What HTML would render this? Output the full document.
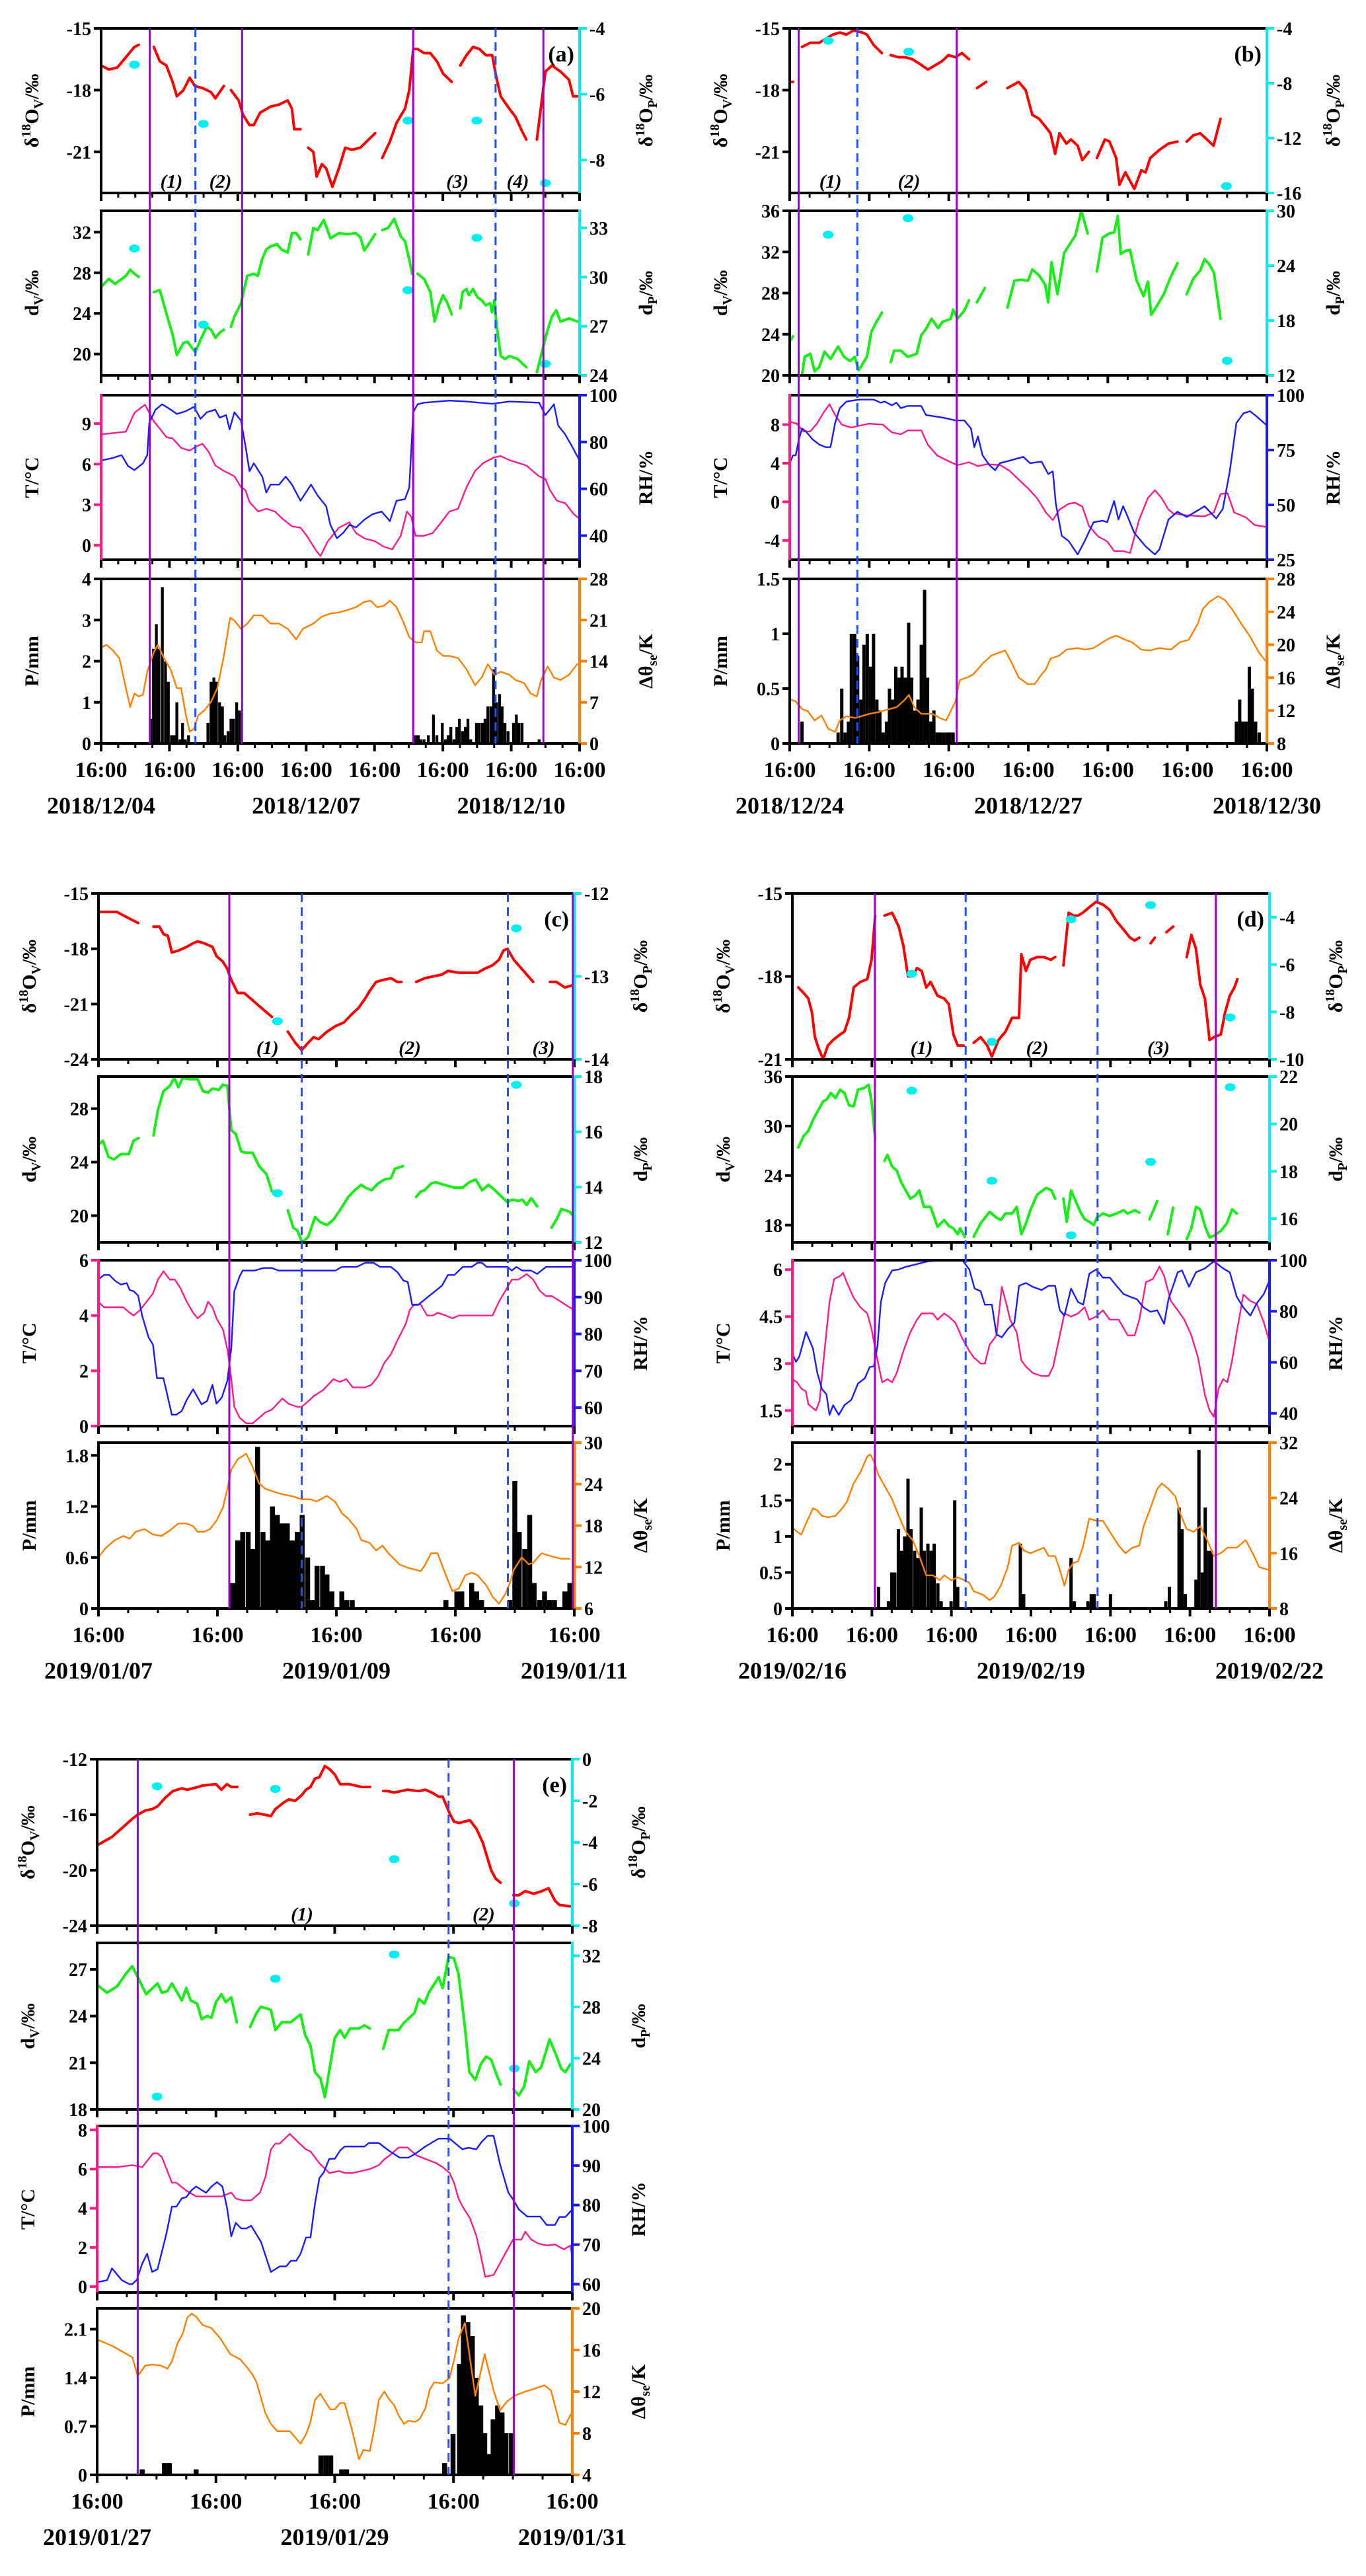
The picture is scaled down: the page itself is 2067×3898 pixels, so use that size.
<!DOCTYPE html>
<html><head><meta charset="utf-8"><title>Isotope time series panels</title>
<style>
html,body{margin:0;padding:0;background:#fff;}
svg{display:block;font-family:"Liberation Serif",serif;font-weight:bold;}
</style></head>
<body>
<svg id="chart" xmlns="http://www.w3.org/2000/svg" width="2067" height="3898" viewBox="0 0 2067 3898"></svg>
<script>
// ===== Panel (a) data =====
const aD18Ov=[[0,-16.8],[2.7,-17.0],[5.7,-16.9],[8.7,-16.4],[11.7,-15.9],[13.2,-15.8],null,[18.5,-15.9],[20.6,-16.6],[22.9,-16.8],[25.1,-17.6],[26.6,-18.3],[28.9,-18.0],[31.1,-17.4],[32.9,-17.8],[35.6,-17.9],[38.6,-18.1],[40.1,-18.4],[43.1,-17.8],null,[45.6,-18.0],[48.3,-18.5],[49.8,-19.2],[52.1,-19.7],[53.6,-19.7],[55.8,-19.1],[59.5,-18.8],[62.5,-18.7],[65.5,-18.5],[67,-18.9],[67.8,-19.9],[70,-19.9],null,[72.7,-20.8],[74.5,-21.0],[75.7,-22.2],[77.5,-21.6],[79,-21.8],[81.2,-22.7],[83.5,-21.8],[85.7,-20.8],[88,-20.9],[91,-20.8],[93.2,-20.5],[96.2,-20.1],null,[98.7,-21.3],[101.4,-20.5],[103.7,-19.6],[106.7,-18.9],[108.2,-18.0],[109.6,-16.0],[111.1,-16.0],[113.4,-16.2],[115.6,-16.2],[117.9,-16.6],[120.1,-17.2],[123.1,-17.6],null,[126.1,-16.8],[128.3,-16.3],[130.6,-15.9],[132.8,-16.0],[135.1,-16.3],[137.3,-16.3],[138.8,-17.4],[140.3,-18.3],[143.3,-18.9],[145.5,-19.3],[147.8,-20.0],[149.3,-20.4],null,[153,-20.4],[154.1,-19.2],[156,-17.1],[158.3,-16.8],[161.3,-17.1],[164.3,-17.5],[165.7,-18.3],[167.2,-18.3]];
const aD18Op=[[11.7,-5.1],[35.9,-6.9],[107.7,-6.8],[131.9,-6.8],[156,-8.7]];
const aDv=[[0,26.6],[2.7,27.4],[4.9,26.9],[8.7,27.7],[10.2,28.3],[11.7,27.9],[13.2,27.6],null,[18.5,26.1],[20.6,26.3],[22.9,24.0],[25.1,21.9],[26.6,19.9],[28.9,21.1],[30.4,21.2],[31.9,20.6],[33.1,20.2],[34.9,21.4],[37.1,22.7],[38.6,22.4],[40.1,21.6],[41.6,22.1],[43.1,22.4],null,[45.6,22.7],[46.8,23.7],[49.1,25.0],[51.3,27.7],[53.6,27.9],[55.0,27.7],[56.5,29.3],[58.0,30.3],[59.5,30.6],[61.8,30.8],[63.3,30.3],[65.5,30.0],[67.0,31.9],[68.5,31.9],[70.0,31.3],null,[72.7,29.8],[74.5,32.4],[76.0,32.2],[78.2,33.2],[80.5,31.4],[83.5,31.9],[86.5,31.8],[89.5,31.9],[91.0,31.5],[92.4,30.2],[93.9,30.8],[96.2,31.8],null,[98.7,32.2],[100.7,32.4],[102.9,33.3],[105.2,31.6],[106.7,31.1],[108.2,29.3],[109.2,27.9],null,[111.1,27.9],[113.4,27.4],[115.6,26.1],[117.1,23.2],[118.6,24.8],[120.1,25.8],[121.6,25.0],[123.1,23.9],null,[126.1,24.5],[126.9,26.1],[128.3,26.4],[129.1,25.8],[130.6,26.4],[132.1,25.6],[133.6,25.3],[135.1,24.8],[136.6,25.0],[137.3,24.1],[138.1,25.3],[138.8,23.0],[140.3,19.8],[141.8,19.5],[143.3,19.8],[146.3,19.5],[149.3,18.7],null,[153,18.2],[155.3,20.8],[156.8,22.4],[158.3,23.7],[159.8,24.3],[161.3,23.2],[164.3,23.5],[167.2,23.2]];
const aDp=[[11.7,31.75],[35.9,27.1],[107.7,29.2],[131.9,32.4],[156,24.7]];
const aT=[[0,8.2],[8.7,8.4],[11.7,9.8],[15.4,10.4],[18.4,9.2],[22.9,8.0],[25.1,7.9],[28.1,7.2],[31.1,7.0],[33.3,7.3],[35.6,7.5],[37.8,6.9],[40.1,5.9],[43.1,5.5],[46.8,5.1],[49.1,4.3],[50.6,4.1],[52.1,3.2],[55.1,2.5],[58.0,2.7],[61.0,2.5],[64.0,1.9],[67.0,1.4],[70.0,1.3],[72.2,0.7],[75.2,-0.3],[77.0,-0.8],[79.6,0.3],[83.5,1.3],[87.2,1.7],[89.5,0.9],[92.5,0.5],[96.2,0.3],[99.2,-0.1],[102.2,-0.3],[105.2,0.7],[107.4,2.5],[108.9,2.1],[110.4,0.7],[113.4,0.7],[116.4,0.9],[119.4,1.7],[122.3,2.5],[125.3,2.7],[128.3,4.3],[131.3,5.5],[134.3,6.1],[138.0,6.5],[140.3,6.6],[143.3,6.3],[146.3,6.1],[149.3,5.9],[151.5,5.5],[153.8,5.1],[156.0,4.9],[157.5,4.1],[160.0,3.3],[163.0,3.1],[166.0,2.3],[167.7,2.0]];
const aRH=[[0,72.1],[4.2,73.2],[7.2,74.4],[9.4,69.8],[11.7,68.0],[14.7,70.9],[16.2,74.4],[16.9,88.1],[19.1,93.8],[21.4,96.1],[23.6,94.5],[26.6,92.0],[29.6,93.1],[32.6,95.0],[34.9,89.9],[37.1,92.7],[40.1,93.8],[41.6,90.4],[43.9,91.5],[45.1,85.4],[46.8,92.7],[49.1,89.2],[50.6,78.9],[52.1,67.5],[53.6,70.9],[56.6,65.2],[58.0,58.4],[59.5,61.8],[62.5,61.8],[64.8,65.2],[67.0,61.8],[70.0,54.9],[73.7,61.8],[76.0,57.2],[79.0,52.6],[80.5,44.6],[82.8,38.9],[85.0,41.2],[87.2,44.6],[89.5,43.5],[92.5,46.9],[95.4,49.2],[98.5,50.3],[101.4,46.2],[103.7,54.9],[106.7,55.6],[108.2,60.6],[109.6,92.7],[111.1,96.1],[113.4,96.8],[122.3,97.7],[128.3,97.3],[137.3,96.3],[143.3,97.3],[153.8,96.8],[156.0,91.5],[159.0,96.1],[160.5,87.0],[162.8,83.5],[165.0,78.9],[168,72.1]];
const aP=[[17.4,0.6],[18.4,2.3],[19.4,2.9],[20.3,2.3],[21.5,3.8],[22.6,2.0],[23.6,1.5],[24.7,0.2],[25.6,0.2],[26.6,1.0],[27.7,0.1],[28.6,0.5],[29.6,0.1],[30.7,0.2],[37.5,0.5],[38.6,1.5],[39.6,1.6],[40.5,1.5],[41.6,1.0],[42.6,0.9],[43.5,0.2],[44.6,0.3],[45.6,0.6],[46.5,0.6],[47.6,1.0],[48.6,0.8],[110.4,0.2],[111.4,0.2],[112.3,0.1],[113.4,0.1],[114.9,0.2],[116.7,0.7],[117.9,0.2],[119.8,0.5],[120.9,0.1],[121.9,0.2],[122.8,0.4],[123.9,0.1],[124.9,0.4],[125.8,0.6],[126.9,0.3],[127.9,0.4],[128.8,0.6],[129.8,0.1],[131.8,0.5],[132.8,0.5],[133.9,0.5],[134.8,0.6],[135.8,0.9],[136.9,0.9],[137.8,1.8],[138.8,1.0],[139.9,1.2],[140.8,0.9],[141.8,0.5],[142.9,0.3],[144.8,0.5],[145.8,0.7],[146.7,0.5],[147.8,0.5],[153.8,0.1]];
const aTheta=[[0,16.3],[1.9,16.8],[4.2,15.8],[6.4,14.5],[8.7,9.4],[10.2,6.2],[11.7,8.5],[13.2,8.0],[14.7,8.3],[16.2,12.2],[18.4,15.4],[19.9,16.8],[22.1,14.5],[24.4,12.6],[26.6,9.4],[28.1,9.4],[29.6,5.2],[31.1,2.0],[32.6,2.5],[34.1,4.8],[36.4,5.7],[38.6,7.1],[40.8,9.4],[43.1,14.9],[45.3,21.4],[46.8,20.9],[49.1,19.5],[51.3,20.4],[53.6,21.8],[56.5,21.8],[59.5,20.4],[62.5,20.4],[65.5,19.5],[68.5,17.7],[70.8,19.5],[74.5,20.4],[77.5,21.6],[80.5,22.1],[83.5,22.3],[86.5,22.7],[89.5,23.2],[92.4,24.1],[94.7,24.3],[96.9,23.2],[99.2,23.4],[101.4,24.3],[103.7,23.2],[105.9,20.9],[108.2,18.1],[110.4,17.2],[112.6,17.2],[113.4,19.1],[115.6,19.1],[117.9,15.8],[120.1,14.9],[122.4,14.9],[125.4,14.5],[128.3,12.6],[131.3,9.9],[133.6,11.2],[135.8,13.5],[138.1,11.7],[140.3,12.2],[143.3,11.7],[145.5,10.8],[148.5,10.3],[150.8,8.5],[153.0,8.0],[154.5,10.8],[156.8,13.1],[159.0,11.2],[161.3,10.8],[164.3,11.7],[167.2,13.5]];
const aPurple=[17.1,49.5,109.6,155.3];
const aDashed=[33.1,138.5];
const aPhases=[["(1)",24.7],["(2)",41.9],["(3)",125.1],["(4)",146.3]];

// ===== Panel (b) data =====
const bD18Ov=[[0,-17.6],[1.0,-17.6],null,[3.7,-15.9],[6.2,-15.7],[8.9,-15.7],[10.9,-15.5],[13.0,-15.3],[15.1,-15.2],[17.1,-15.3],[19.2,-15.1],[21.9,-15.2],[23.3,-15.3],[25.3,-15.8],[27.8,-16.2],null,[30.5,-16.3],[32.8,-16.4],[34.9,-16.4],[37.0,-16.5],[39.0,-16.7],[41.7,-17.0],[43.8,-16.8],[45.9,-16.6],[47.9,-16.3],[50.0,-16.4],[52.0,-16.2],[54.1,-16.5],null,[56.5,-17.9],[59.3,-17.6],null,[65.7,-17.9],[69.1,-17.6],[71.2,-18.0],[73.2,-19.2],[75.3,-19.4],[77.3,-19.8],[78.7,-20.1],[80.1,-21.1],[81.4,-20.1],[83.5,-20.6],[84.9,-20.4],[86.9,-20.7],[88.3,-21.4],[90.3,-21.0],null,[92.7,-21.3],[95.1,-20.4],[96.5,-20.5],[98.5,-21.3],[99.5,-22.6],[101.3,-22.0],[104.0,-22.8],[106.1,-21.9],[107.4,-22.0],[108.8,-21.3],[111.6,-20.9],[114.3,-20.6],[117.0,-20.5],null,[119.8,-20.5],[121.8,-20.2],[123.9,-20.1],[125.9,-20.4],[127.9,-20.7],[130.0,-19.4]];
const bD18Op=[[11.6,-4.9],[35.9,-5.7],[131.8,-15.5]];
const bDv=[[0,23.3],[1.0,23.8],null,[3.7,20.0],[4.5,21.8],[6.2,22.1],[7.5,20.4],[8.9,20.8],[10.5,22.3],[12.3,21.6],[14.6,22.8],[16.4,21.8],[18.2,21.4],[19.6,21.8],[20.8,20.5],[23.3,21.8],[24.6,24.2],[26.0,25.1],[27.8,26.1],null,[30.5,21.3],[31.5,22.4],[33.5,22.4],[35.6,21.8],[38.3,22.1],[39.7,23.9],[41.1,24.5],[42.8,25.5],[44.8,24.6],[46.1,25.2],[48.6,25.5],[49.3,26.4],[50.6,25.5],[52.7,26.3],[54.1,27.3],null,[56.5,27.1],[58.9,28.5],null,[65.7,26.6],[67.8,29.2],[69.8,29.3],[71.9,29.2],[73.2,30.3],[75.3,29.7],[77.1,28.8],[78.0,27.1],[79.0,31.0],[80.8,27.9],[82.8,31.9],[84.2,32.6],[86.2,33.6],[88.0,36.0],[89.9,33.8],null,[92.7,30.1],[94.4,33.4],[96.5,33.8],[97.9,33.9],[99.0,35.5],[99.9,31.8],[101.3,32.1],[102.7,32.2],[104.7,29.2],[106.8,27.7],[108.1,29.1],[109.1,25.9],[110.9,26.8],[112.9,27.9],[115.0,29.6],[117.0,30.9],null,[119.8,27.9],[121.8,29.4],[123.9,30.2],[125.2,31.3],[126.6,30.8],[128.0,30.0],[130.0,25.5]];
const bDp=[[11.6,27.4],[35.7,29.2],[132,13.6]];
const bT=[[0,8.3],[2.1,8.1],[4.1,7.3],[6.2,7.3],[8.2,8.1],[10.3,9.3],[12.0,10.1],[13.7,9.0],[15.7,8.0],[18.5,7.7],[21.2,7.9],[24.0,8.1],[28.1,8.0],[30.8,7.2],[33.5,7.0],[35.6,7.4],[39.7,7.4],[41.7,5.9],[44.5,4.8],[48.6,4.1],[50.6,3.8],[54.1,4.1],[56.8,3.7],[59.5,3.9],[63.6,3.8],[66.4,3.2],[69.1,2.3],[71.9,1.4],[74.6,0.4],[77.3,-1.1],[79.4,-1.9],[81.4,-0.8],[84.2,-0.2],[86.2,-0.1],[88.3,-0.5],[90.3,-2.5],[93.1,-3.6],[95.8,-4.1],[97.9,-5.1],[100.6,-5.1],[102.7,-5.3],[105.4,-1.9],[108.1,0.4],[110.2,1.2],[112.2,0.4],[114.3,-0.8],[115.7,-1.2],[119.8,-1.4],[125.2,-1.5],[128.0,-1.1],[130.0,0.8],[132.1,0.9],[134.1,-1.1],[137.6,-1.6],[140.3,-2.4],[143.7,-2.6]];
const bRH=[[0,69.0],[1.0,72.6],[1.8,72.6],[2.7,79.5],[3.7,84.8],[4.8,83.6],[6.8,80.0],[8.9,77.5],[10.9,76.3],[12.3,76.3],[13.7,87.3],[15.1,94.1],[17.1,97.1],[19.2,97.6],[21.2,98.0],[25.3,98.0],[27.4,96.6],[28.7,97.1],[30.8,95.4],[32.2,96.6],[33.5,94.1],[35.6,95.1],[39.7,95.1],[41.1,91.0],[46.5,89.7],[50.0,88.5],[52.7,88.5],[54.7,84.8],[55.7,76.3],[56.8,81.2],[58.2,72.6],[60.2,68.2],[62.0,65.8],[63.4,69.0],[66.4,70.2],[70.5,71.9],[72.5,69.0],[76.0,69.7],[78.0,64.1],[79.4,65.3],[80.3,50.6],[82.1,35.9],[84.2,33.5],[86.9,27.4],[89.0,33.5],[91.7,42.1],[94.4,42.8],[95.8,42.1],[97.9,51.8],[99.2,43.3],[100.6,49.4],[101.7,45.7],[104.0,37.2],[107.4,31.1],[110.2,27.4],[111.6,29.8],[114.3,43.3],[117.0,46.9],[119.8,44.5],[122.5,46.9],[125.2,49.4],[128.7,43.8],[130.7,48.2],[132.8,65.3],[134.8,87.3],[136.9,91.7],[138.9,92.7],[141.0,90.2],[143.7,86.6]];
const bP=[[3.7,0.2],[14.6,0.1],[15.7,0.5],[16.7,0.1],[17.7,0.2],[18.6,1.0],[19.6,1.0],[20.5,0.8],[21.5,0.4],[22.4,0.9],[23.4,1.0],[24.4,0.7],[25.3,1.0],[26.3,0.4],[27.2,0.3],[28.2,0.1],[29.2,0.2],[30.1,0.5],[31.1,0.4],[32.0,0.7],[33.0,0.6],[33.9,0.7],[34.9,0.6],[35.9,1.1],[36.8,0.6],[37.8,0.3],[38.7,0.4],[39.7,0.9],[40.7,1.4],[41.6,0.6],[42.6,0.2],[43.5,0.3],[44.5,0.1],[45.4,0.1],[46.4,0.1],[47.4,0.1],[48.3,0.1],[49.3,0.1],[134.8,0.2],[135.8,0.4],[136.7,0.2],[137.7,0.2],[138.7,0.7],[139.6,0.5],[140.6,0.2],[141.7,0.1]];
const bTheta=[[0,13.4],[1.8,13.1],[3.7,12.2],[5.5,11.9],[7.5,10.8],[9.6,11.4],[11.6,9.8],[13.7,9.4],[15.1,10.8],[17.1,11.3],[19.8,11.1],[24.0,11.6],[26.7,11.8],[29.4,12.1],[32.2,12.4],[34.2,13.1],[36.0,13.9],[37.6,12.4],[39.7,11.6],[43.1,11.6],[45.2,11.1],[47.2,10.8],[50.0,13.1],[51.3,15.7],[53.4,16.0],[55.4,16.4],[58.2,17.7],[60.9,18.7],[65.0,19.3],[67.1,17.7],[69.1,16.0],[71.9,15.2],[73.9,15.2],[76.0,16.4],[77.3,17.0],[78.7,18.3],[81.4,18.7],[83.5,19.4],[86.9,19.6],[89.0,19.4],[91.7,19.6],[94.4,20.3],[96.5,20.8],[98.5,21.1],[101.3,20.6],[103.3,20.3],[106.1,19.4],[108.8,19.3],[111.6,19.6],[115.0,19.4],[117.7,20.3],[120.4,20.6],[123.2,22.6],[124.6,24.3],[126.6,25.2],[129.3,25.9],[131.4,25.4],[133.5,24.3],[136.2,22.6],[138.9,21.0],[141.7,19.0],[143.7,18.0]];
const bPurple=[2.7,50.4];
const bDashed=[20.4];
const bPhases=[["(1)",12.3],["(2)",36.0]];

// ===== Panel (c) data =====
const cD18Ov=[[0,-16.0],[2.0,-16.0],[3.7,-16.0],[5.8,-16.3],[8.0,-16.6],null,[11.1,-16.8],[12.3,-16.8],[13.1,-17.2],[14.0,-17.3],[14.8,-18.2],[16.1,-18.1],[17.8,-17.9],[19.1,-17.7],[20.0,-17.6],[21.3,-17.7],[23.0,-17.9],[23.8,-18.4],[25.1,-18.7],[26.0,-19.1],[26.8,-19.7],[28.1,-20.4],[29.4,-20.4],[30.7,-20.7],[32.4,-21.1],[33.7,-21.4],[35.0,-21.7],null,[38.2,-22.5],[39.7,-23.1],[41.0,-23.5],[42.3,-23.1],[43.4,-22.8],[44.4,-22.9],[46.1,-22.5],[47.8,-22.2],[49.5,-22.0],[51.3,-21.5],[52.5,-21.2],[53.8,-20.7],[54.7,-20.3],[56.0,-19.8],[57.3,-19.7],[59.0,-19.6],[60.3,-19.8],[61.1,-19.8],null,[64.1,-19.8],[65.8,-19.6],[67.5,-19.5],[69.3,-19.4],[70.5,-19.2],[72.7,-19.3],[75.3,-19.3],[76.5,-19.3],[77.8,-19.1],[79.5,-18.9],[80.8,-18.6],[81.7,-18.1],[82.5,-18.0],[83.8,-18.6],[85.1,-19.0],[86.4,-19.4],[87.7,-19.8],null,[91.1,-19.8],[92.4,-19.8],[94.1,-20.1],[95.4,-20.0]];
const cD18Op=[[36.1,-13.54],[84.3,-12.42]];
const cDv=[[0,25.3],[0.9,25.6],[2.0,24.4],[3.1,24.2],[4.5,24.6],[6.1,24.6],[7.1,25.6],[8.1,25.8],null,[11.1,26.0],[12.0,27.9],[13.1,29.3],[14.4,29.7],[15.3,30.3],[16.1,29.6],[17.0,30.3],[18.3,30.2],[20.0,30.2],[21.1,29.3],[22.1,29.2],[23.0,29.5],[24.3,29.4],[25.1,29.8],[26.0,29.7],[26.8,26.4],[27.7,26.1],[28.8,24.8],[29.7,24.7],[31.1,24.7],[32.4,23.7],[33.9,23.1],[35.0,21.8],null,[38.2,20.4],[39.3,19.1],[40.1,18.9],[41.1,18.0],[42.3,18.4],[43.7,19.9],[44.8,19.5],[46.1,19.3],[47.4,19.7],[48.7,20.4],[50.4,21.4],[51.7,21.9],[53.0,22.3],[53.8,22.1],[55.1,21.9],[56.4,22.4],[57.7,22.7],[59.0,22.8],[59.8,23.5],[61.4,23.7],null,[64.1,21.4],[65.0,21.8],[65.8,21.9],[67.1,22.4],[68.0,22.5],[69.7,22.3],[71.8,22.1],[73.5,22.1],[74.8,22.5],[76.1,22.7],[77.4,21.9],[78.7,22.3],[80.0,21.9],[80.8,21.6],[82.5,21.0],[83.4,21.2],[84.7,21.1],[85.5,21.2],[86.4,20.8],[87.3,21.3],[88.5,20.7],null,[91.4,19.1],[92.4,19.7],[93.4,20.5],[95.0,20.3],[95.8,20.0]];
const cDp=[[36.1,13.78],[84.3,17.7]];
const cT=[[0,4.5],[1.1,4.3],[2.8,4.3],[5.0,4.3],[6.3,4.1],[7.1,4.0],[8.4,4.2],[9.7,4.5],[11.0,4.8],[12.0,5.3],[13.1,5.6],[14.4,5.3],[15.4,5.3],[16.5,5.0],[17.8,4.5],[19.1,4.1],[20.0,3.9],[21.3,4.1],[22.1,4.5],[23.0,4.3],[23.8,3.9],[25.1,3.5],[26.1,2.7],[26.8,1.7],[27.4,0.7],[28.5,0.3],[29.8,0.1],[31.1,0.1],[32.4,0.3],[33.7,0.5],[35.0,0.6],[37.1,1.0],[38.4,0.8],[40.1,0.7],[41.0,0.7],[42.3,0.9],[43.5,1.1],[45.3,1.3],[47.4,1.7],[48.7,1.6],[50.0,1.7],[51.3,1.4],[53.8,1.4],[55.1,1.5],[56.4,1.8],[57.7,2.3],[59.0,2.6],[60.3,3.1],[62.0,3.7],[62.8,4.2],[63.7,4.4],[65.0,4.4],[66.3,4.0],[67.5,4.0],[68.4,4.1],[70.1,4.0],[71.4,3.9],[72.7,4.0],[75.3,4.0],[79.5,4.0],[80.8,4.5],[82.1,4.9],[83.4,5.3],[84.7,5.3],[86.4,5.5],[87.7,5.3],[89.0,4.9],[90.3,4.7],[91.5,4.7],[93.3,4.5],[95.0,4.3],[96.0,4.2]];
const cRH=[[0,94.8],[1.1,96.0],[2.2,96.0],[3.3,94.5],[4.5,93.4],[5.7,93.8],[6.3,91.9],[7.1,91.6],[8.0,90.4],[8.8,85.0],[10.1,79.1],[11.0,77.1],[11.8,68.0],[13.1,68.0],[14.0,62.8],[14.8,58.1],[15.7,58.1],[16.8,59.1],[17.8,62.1],[19.1,65.0],[20.0,62.8],[20.8,60.9],[21.9,61.8],[23.0,66.2],[23.8,61.1],[24.9,62.8],[26.0,67.3],[26.8,76.1],[27.4,91.6],[28.5,95.7],[29.1,97.2],[31.5,97.2],[33.3,97.9],[35.0,97.9],[36.3,97.2],[44.0,97.2],[47.8,97.2],[49.1,98.2],[52.1,98.2],[53.8,99.3],[55.5,99.3],[56.8,98.2],[59.0,98.2],[60.3,96.8],[61.5,94.5],[62.4,94.1],[63.3,87.9],[64.5,87.9],[69.3,93.1],[70.5,96.0],[71.8,96.0],[73.5,98.2],[75.3,98.2],[76.5,99.3],[77.4,99.3],[78.3,98.2],[82.5,98.2],[83.4,97.2],[84.3,98.2],[85.5,97.2],[87.3,97.2],[88.5,96.3],[90.3,98.2],[96,98.2]];
const cP=[[27.1,0.3],[28.1,0.8],[29.1,0.9],[30.2,0.9],[31.1,0.7],[32.1,1.9],[33.2,0.9],[34.1,0.8],[35.1,1.2],[36.1,1.1],[37.1,1.0],[38.1,1.0],[39.1,0.8],[40.1,0.9],[41.1,1.1],[42.2,0.6],[43.1,0.1],[44.1,0.5],[45.2,0.5],[46.1,0.4],[47.1,0.2],[49.1,0.2],[50.1,0.1],[51.2,0.1],[70.1,0.1],[72.3,0.2],[73.3,0.2],[75.3,0.3],[76.3,0.2],[77.3,0.1],[83.0,0.1],[84.0,1.5],[84.9,0.9],[86.0,0.7],[87.0,1.1],[87.9,0.3],[89.0,0.1],[90.0,0.2],[91.0,0.1],[92.0,0.1],[94.1,0.2],[95.1,0.3]];
const cTheta=[[0,13.4],[1.5,14.8],[3.3,15.9],[5.0,16.5],[6.3,16.1],[7.5,17.1],[9.3,17.5],[11.0,16.7],[12.7,16.5],[14.4,17.3],[16.1,18.3],[17.8,18.3],[19.1,17.9],[20.0,17.1],[21.3,17.1],[22.5,17.5],[23.8,18.7],[25.1,20.6],[26.0,23.3],[26.8,26.1],[28.1,27.6],[29.8,28.4],[31.1,26.5],[32.4,24.1],[33.7,23.3],[35.0,23.0],[36.7,22.6],[39.3,22.2],[41.0,21.8],[42.7,21.8],[44.0,21.5],[46.1,22.3],[47.8,21.4],[49.1,19.8],[50.4,19.0],[52.1,17.5],[53.0,15.9],[54.7,15.5],[56.0,14.4],[57.3,15.1],[58.5,14.0],[60.7,12.4],[62.4,11.9],[65.0,11.4],[65.8,12.2],[67.1,14.0],[68.4,14.0],[70.1,10.8],[71.4,8.5],[72.7,8.9],[74.0,10.8],[75.3,11.2],[76.5,10.8],[78.3,9.3],[79.5,7.7],[80.8,6.7],[82.1,8.1],[83.0,9.7],[83.8,11.6],[85.4,13.4],[86.8,12.4],[87.7,12.6],[89.4,14.0],[91.1,13.6],[93.3,13.2],[95.0,13.2]];
const cPurple=[26.4,95.7];
const cDashed=[41.0,82.6];
const cPhases=[["(1)",34.1],["(2)",62.8],["(3)",89.8]];

// ===== Panel (d) data =====
const dD18Ov=[[1.8,-18.4],[3.4,-18.6],[4.8,-18.8],[5.9,-19.3],[6.8,-20.2],[7.9,-20.6],[9.3,-21.0],[10.7,-20.5],[12.3,-20.3],[14.4,-20.1],[15.7,-20.0],[17.1,-19.5],[18.5,-18.4],[20.5,-18.2],[22.6,-18.1],[23.9,-17.4],[25.0,-15.8],null,[27.8,-15.8],[30.1,-15.7],[32.1,-16.2],[33.5,-16.9],[34.9,-18.0],[36.3,-18.0],[37.6,-17.7],[39.0,-17.8],[40.4,-18.4],[41.7,-18.2],[43.8,-18.7],[45.8,-18.8],[47.2,-19.0],[48.6,-20.1],[49.9,-20.5],[51.7,-20.5],null,[54.7,-20.4],[56.8,-20.2],[58.8,-20.5],[60.2,-20.9],[62.2,-20.3],[64.3,-20.0],[66.3,-19.5],[68.4,-19.5],[69.1,-17.2],[70.5,-17.8],[71.8,-17.4],[73.9,-17.3],[75.9,-17.3],[78.0,-17.4],[79.3,-17.3],null,[81.8,-17.6],[83.4,-15.7],[84.8,-15.8],[86.2,-15.8],[87.6,-15.7],[89.6,-15.5],[91.7,-15.3],[93.7,-15.4],[95.8,-15.6],[97.8,-16.0],[99.9,-16.3],[101.9,-16.6],[103.3,-16.7],[104.7,-16.6],null,[108.1,-16.8],[109.4,-16.6],null,[112.9,-16.4],[114.9,-16.2],null,[119.0,-17.3],[120.4,-16.5],[121.8,-17.0],[123.1,-18.3],[124.5,-18.8],[125.9,-20.3],[127.2,-20.2],[129.3,-20.1],[130.6,-19.3],[132.0,-18.7],[133.4,-18.4],[134.3,-18.1]];
const dD18Op=[[36,-6.39],[60.2,-9.26],[84.1,-4.09],[108.1,-3.49],[132.1,-8.23]];
const dDv=[[1.8,27.4],[3.4,28.8],[4.8,29.4],[6.2,30.7],[7.5,31.7],[9.3,33.0],[10.3,33.2],[11.6,34.0],[13.0,33.4],[14.4,34.4],[15.7,34.0],[17.1,32.5],[18.5,32.4],[19.8,34.4],[21.6,34.6],[23.0,35.0],[23.9,33.0],[25.0,28.4],null,[27.8,25.8],[28.7,26.5],[30.1,25.1],[31.5,24.6],[32.8,23.2],[34.2,22.2],[35.6,21.2],[36.9,21.5],[38.3,22.2],[39.7,20.2],[41.7,20.2],[43.8,17.8],[45.8,18.6],[47.2,17.9],[48.6,17.6],[49.9,16.9],[50.6,17.6],[52.0,16.6],null,[54.7,16.6],[56.8,18.2],[59.5,19.6],[61.6,18.9],[62.9,18.6],[64.3,19.4],[66.3,19.4],[67.7,20.2],[69.1,16.9],[70.5,18.2],[71.8,19.8],[73.9,21.7],[76.6,22.5],[78.2,22.2],[79.3,21.2],null,[81.8,21.2],[82.8,18.4],[84.1,22.2],[85.5,20.9],[86.9,19.6],[88.2,18.7],[89.6,18.4],[91.0,18.0],[91.9,18.9],[93.7,19.4],[95.8,19.1],[97.8,19.4],[99.9,19.8],[101.2,19.4],[103.3,19.8],[104.7,19.5],null,[107.8,18.7],[110.1,20.9],null,[113.3,16.9],[114.9,20.1],null,[119.0,16.3],[120.4,17.6],[121.8,20.2],[123.1,19.9],[124.5,17.9],[125.9,16.5],[127.2,16.7],[129.3,17.3],[131.1,18.2],[132.7,19.9],[134.1,19.4]];
const dDp=[[36,21.4],[60.2,17.6],[84.1,15.3],[108.1,18.4],[132.1,21.55]];
const dT=[[0,2.5],[1.4,2.4],[2.7,2.2],[4.1,2.1],[4.8,1.7],[5.9,1.6],[7.1,1.5],[8.2,1.8],[9.6,3.3],[11.2,4.96],[12.6,5.7],[14.4,5.8],[15.3,5.9],[16.4,5.6],[18.5,5.1],[20.5,4.8],[22.6,4.6],[23.9,4.1],[25.7,3.1],[27.1,2.4],[28.7,2.5],[30.1,2.4],[31.5,2.7],[33.5,3.4],[35.6,4.0],[37.6,4.4],[39.0,4.6],[42.4,4.6],[43.8,4.4],[45.8,4.6],[47.2,4.5],[49.2,4.3],[51.3,3.8],[53.4,3.4],[54.7,3.2],[56.8,3.0],[58.1,3.0],[59.5,3.6],[61.6,3.9],[63.2,5.45],[64.6,4.9],[65.7,4.4],[67.7,4.0],[69.1,3.1],[70.5,2.9],[72.5,2.7],[75.2,2.6],[77.3,2.6],[78.7,2.9],[80.7,3.9],[82.1,4.6],[84.1,4.5],[86.2,4.6],[88.2,4.8],[89.6,4.4],[91.7,4.5],[93.7,4.7],[95.8,4.4],[98.5,4.4],[101.2,3.9],[103.3,3.9],[104.7,4.4],[106.7,5.6],[108.8,5.7],[110.8,6.1],[112.2,5.8],[114.2,5.0],[116.3,4.7],[118.3,4.4],[120.4,3.9],[122.4,3.2],[124.5,2.0],[125.9,1.5],[127.2,1.3],[128.6,2.2],[130.0,2.5],[131.3,2.4],[132.7,3.1],[134.1,4.0],[136.1,5.2],[138.2,5.0],[140.2,4.9],[142.3,4.3],[144,3.7]];
const dRH=[[0,63.4],[1.1,60.2],[2.1,62.3],[4.1,71.9],[6.2,65.5],[7.5,56.0],[8.9,49.6],[10.3,47.4],[11.2,39.4],[12.3,43.2],[14.0,39.4],[15.7,43.2],[17.8,45.3],[19.8,51.7],[21.9,53.8],[23.3,58.1],[24.6,58.5],[25.7,66.6],[26.7,83.6],[28.0,91.1],[30.1,96.0],[32.1,96.4],[34.2,97.4],[37.6,98.5],[41.0,99.6],[45.1,100],[51.3,100],[53.4,96.4],[55.0,88.9],[56.8,87.9],[58.1,82.6],[60.2,82.6],[61.6,70.9],[63.2,69.8],[65.0,73.0],[67.0,75.5],[68.4,90.0],[70.5,91.1],[72.5,89.6],[75.2,88.3],[77.3,90.0],[79.3,90.0],[80.7,80.4],[82.1,78.3],[84.1,88.9],[86.2,83.6],[87.8,82.6],[89.6,94.7],[91.7,96.4],[93.7,93.2],[95.8,93.2],[97.8,90.0],[99.9,86.8],[101.9,85.7],[104.0,84.7],[106.0,81.5],[108.1,79.8],[110.1,80.4],[112.2,75.1],[113.5,84.7],[116.3,95.3],[117.6,96.0],[119.7,89.6],[121.8,95.3],[124.5,96.8],[127.2,99.6],[130.0,96.8],[132.0,95.3],[134.1,85.7],[136.1,81.5],[138.2,78.3],[140.2,83.2],[142.3,86.8],[144,92.1]];
const dP=[[26.0,0.3],[29.0,0.1],[30.0,0.5],[30.9,0.5],[32.0,1.1],[33.0,0.8],[33.9,1.0],[34.9,1.8],[35.8,1.1],[36.9,0.8],[37.9,0.7],[38.9,1.4],[39.8,0.8],[40.9,0.9],[41.9,0.8],[42.8,0.9],[43.9,0.35],[44.9,0.1],[47.9,0.1],[49.0,1.5],[49.9,0.3],[68.8,0.9],[69.8,0.2],[84.1,0.7],[85.1,0.1],[89.2,0.1],[90.2,0.2],[91.1,0.2],[96.0,0.2],[112.7,0.1],[113.8,0.3],[116.7,1.4],[117.6,1.1],[118.6,0.2],[121.8,0.4],[122.7,2.2],[123.7,0.5],[124.6,1.4],[125.6,0.8],[126.5,0.8]];
const dTheta=[[0,19.7],[1.4,19.1],[2.7,18.7],[4.1,20.3],[6.2,22.5],[7.5,22.2],[8.9,21.4],[10.9,21.2],[13.0,21.4],[15.0,22.5],[16.4,23.4],[18.5,26.1],[20.5,27.7],[22.6,30.0],[23.5,30.3],[24.6,29.3],[26.0,27.3],[28.0,25.6],[30.1,23.8],[32.1,21.4],[34.2,19.1],[36.3,17.9],[38.3,15.6],[40.4,12.8],[42.4,12.8],[44.5,12.1],[45.8,12.8],[47.9,12.1],[49.9,12.5],[52.0,12.1],[53.4,11.7],[54.7,10.5],[57.5,10.0],[59.5,9.2],[60.9,9.7],[62.9,11.3],[65.0,14.0],[66.3,17.1],[68.4,17.5],[69.8,16.4],[71.8,16.0],[73.9,16.4],[75.9,16.8],[77.3,15.6],[79.3,15.6],[80.7,13.6],[82.1,11.3],[83.4,13.6],[84.8,14.6],[86.2,14.8],[87.6,16.8],[89.6,21.0],[91.7,20.7],[93.7,20.7],[95.8,19.1],[98.5,17.1],[100.5,16.0],[102.6,16.8],[104.7,17.1],[106.0,19.9],[108.1,22.6],[110.1,25.3],[111.5,26.1],[113.5,25.3],[115.6,24.2],[117.0,21.8],[119.0,19.5],[121.1,19.1],[123.1,19.9],[125.2,17.9],[127.2,15.6],[129.3,16.0],[131.3,16.8],[134.1,16.8],[136.8,17.9],[138.9,16.0],[140.9,14.0],[143.6,13.6]];
const dPurple=[24.9,127.8];
const dDashed=[52.3,92.1];
const dPhases=[["(1)",39.0],["(2)",73.9],["(3)",110.5]];

// ===== Panel (e) data =====
const eD18Ov=[[0,-18.2],[3,-17.6],[7.1,-16.3],[8.2,-16.0],[9.7,-15.7],[11.1,-15.6],[12.2,-15.4],[13.7,-14.8],[15.3,-14.3],[17.1,-14.1],[18.2,-14.2],[20.4,-14.0],[21.3,-13.9],[24.0,-13.8],[25.1,-14.2],[26.2,-13.8],[27.1,-14.0],[28.3,-14.0],null,[30.9,-16.0],[32.4,-15.9],[33.8,-16.0],[35.1,-16.1],[36.0,-15.6],[37.8,-15.1],[38.7,-14.9],[40.0,-15.0],[41.3,-14.6],[42.2,-14.2],[43.1,-14.0],[44.0,-13.4],[44.9,-13.3],[46.0,-12.5],[46.9,-12.7],[48.0,-13.1],[49.1,-13.8],[50.9,-13.8],[53.4,-14.0],[55.1,-14.0],null,[57.8,-14.3],[58.7,-14.3],[60.0,-14.4],[62.7,-14.2],[65.0,-14.3],[66.3,-14.2],[67.6,-14.4],[69.0,-14.7],[69.8,-14.7],[71.2,-15.9],[72.1,-16.5],[73.2,-16.6],[74.1,-16.5],[75.3,-16.4],[76.6,-17.0],[77.9,-18.0],[79.6,-20.0],[80.5,-20.6],[81.5,-20.9],null,[84.1,-21.8],[85.2,-21.8],[86.5,-21.5],[88.2,-21.7],[89.9,-21.5],[91.2,-21.3],[92.5,-22.2],[93.4,-22.5],[95.5,-22.6]];
const eD18Op=[[12.1,-1.3],[36.0,-1.43],[60.0,-4.8],[84.3,-6.93]];
const eDv=[[0,26.0],[2,25.5],[4,25.9],[6,26.8],[7.1,27.2],[8.2,26.5],[9.9,25.4],[11.2,25.8],[12.2,26.1],[13.1,25.5],[14.2,25.6],[15.1,26.1],[16.2,25.5],[17.1,25.0],[18.0,25.8],[18.9,25.0],[20.2,24.8],[21.1,23.8],[22.2,24.0],[23.1,23.9],[24.0,24.9],[25.1,25.4],[26.0,24.9],[27.1,25.2],[28.2,23.6],null,[30.9,23.3],[32.2,24.2],[33.1,24.6],[35.1,24.4],[36.0,23.1],[37.3,23.6],[39.1,23.6],[41.1,24.1],[42.0,22.8],[43.1,22.1],[44.0,20.4],[45.1,20.0],[46.0,18.8],[48.0,22.6],[49.1,23.1],[50.0,22.6],[51.1,23.2],[52.9,23.2],[54.0,23.4],[55.1,23.2],null,[57.8,21.9],[58.9,23.1],[60.9,23.1],[61.8,23.5],[64.1,24.2],[65.0,25.1],[66.1,24.8],[67.0,25.5],[67.8,25.9],[69.0,26.5],[69.8,25.8],[71.0,27.8],[72.1,27.7],[73.0,26.7],[73.5,25.4],[74.3,23.3],[75.2,20.4],[76.4,19.9],[77.5,20.9],[78.6,21.4],[79.6,21.2],[80.5,20.4],[81.5,19.6],null,[84.1,19.3],[85.2,18.9],[86.3,19.5],[87.3,21.1],[88.6,20.4],[89.7,20.7],[91.4,22.5],[92.6,21.6],[93.8,20.6],[94.6,20.4],[95.6,20.9]];
const eDp=[[12.1,21.0],[36.0,30.2],[60.0,32.1],[84.3,23.2]];
const eT=[[0,6.1],[4,6.1],[7.1,6.2],[9.1,6.1],[11.3,6.8],[12.2,6.8],[13.1,6.6],[15.1,5.3],[16.0,5.3],[18.0,4.9],[20.0,4.6],[22.0,4.6],[23.1,4.6],[25.1,4.6],[27.1,4.8],[28.0,4.5],[29.3,4.4],[31.1,4.4],[32.0,4.6],[32.9,4.8],[34.0,5.6],[35.1,7.0],[36.0,7.3],[36.9,7.3],[38.9,7.8],[40.9,7.3],[42.2,7.0],[43.1,6.9],[44.9,6.3],[46.9,5.8],[48.9,5.9],[50.0,5.8],[51.6,5.8],[53.4,5.9],[55.1,6.0],[56.9,6.2],[58.0,6.5],[59.1,6.7],[60.9,7.1],[62.7,7.1],[64.5,6.7],[66.5,6.5],[68.5,6.3],[69.8,6.1],[71.2,5.8],[72.1,5.3],[73.0,4.5],[73.8,4.1],[75.3,3.5],[76.6,2.6],[77.5,1.6],[78.4,0.5],[80.1,0.6],[81.4,1.2],[82.7,1.8],[84.0,2.4],[85.7,2.4],[86.5,2.8],[87.7,2.4],[89.1,2.2],[90.8,2.1],[92.5,2.15],[94.3,1.9],[95.6,2.1],[96,1.5]];
const eRH=[[0,60.5],[2,61.0],[3,64],[5,61],[6.5,60],[7.1,60.0],[8.0,61.1],[9.1,65.2],[10.1,67.7],[11.1,63.1],[12.2,63.8],[14.0,72.8],[15.1,79.6],[16.0,79.6],[17.1,81.7],[18.0,82.0],[19.1,83.8],[20.0,84.7],[22.0,83.1],[23.1,84.7],[24.2,85.8],[25.3,84.7],[26.2,79.6],[27.1,72.1],[28.0,75.5],[29.1,74.1],[30.2,74.1],[31.1,74.8],[33.1,70.7],[35.1,63.1],[36.9,64.5],[38.2,64.5],[39.1,65.9],[40.2,65.9],[41.1,67.7],[42.2,71.8],[43.1,71.8],[44.0,80.3],[44.9,86.8],[45.8,88.3],[46.9,91.7],[48.0,91.7],[49.1,93.8],[50.0,94.8],[50.9,94.8],[54.0,94.8],[54.9,95.7],[56.9,95.7],[58.9,93.8],[61.1,92.0],[62.9,92.0],[64.3,93.0],[66.3,94.8],[69.0,96.8],[71.2,96.8],[73.8,94.1],[75.0,94.5],[76.6,94.1],[77.7,96],[78.9,97.5],[80.1,97.5],[81.4,90.3],[83.1,83.1],[84.1,81.3],[85.2,78.9],[86.9,77.1],[89.5,77.1],[90.8,75],[92.5,75],[93.4,77],[94.6,77],[96,78.9]];
const eP=[[9.1,0.08],[13.6,0.17],[14.6,0.17],[20.0,0.08],[45.2,0.28],[46.2,0.28],[47.2,0.28],[49.4,0.08],[50.4,0.08],[70.2,0.17],[71.9,0.59],[73.2,1.6],[74.0,2.3],[74.9,2.2],[75.8,2.0],[76.6,1.4],[77.5,1.0],[78.3,0.6],[79.2,0.3],[80.0,0.8],[80.9,1.0],[81.8,0.9],[82.6,0.6],[83.7,0.6]];
const eTheta=[[0,17.0],[3,16.4],[6,15.6],[7.1,15.3],[8.2,13.5],[9.7,14.5],[11.1,14.6],[12.9,14.5],[14.2,14.2],[15.1,14.9],[16.2,16.6],[17.3,17.6],[18.2,19.1],[19.1,19.5],[20.0,19.2],[21.3,18.4],[23.1,18.1],[24.9,17.1],[26.9,15.6],[28.9,15.1],[30.0,14.5],[31.3,13.7],[32.2,12.9],[34.0,9.9],[35.1,8.9],[36.4,8.2],[38.9,8.2],[41.1,7.0],[42.2,7.9],[43.1,9.1],[44.0,11.2],[45.1,11.8],[46.0,11.1],[47.1,10.3],[48.0,10.3],[49.1,10.9],[50.0,10.9],[51.4,8.5],[52.9,5.5],[53.8,6.4],[55.1,6.3],[56.0,8.5],[56.9,11.2],[58.0,12.0],[59.1,11.2],[60.0,10.7],[60.9,9.7],[62.0,8.9],[62.9,9.2],[64.3,9.1],[65.2,9.4],[66.3,10.4],[67.2,12.2],[68.1,12.9],[69.8,12.8],[71.2,13.3],[72.1,15.0],[73.0,17.1],[74.3,18.6],[76.4,11.6],[78.3,15.6],[80.1,12.1],[81.4,10.2],[82.7,11.0],[84.3,11.6],[86.5,12.0],[89.1,12.4],[90.4,12.6],[91.7,12.1],[93.4,9.0],[94.6,8.8],[95.8,9.9]];
const ePurple=[8.2,84.2];
const eDashed=[71.0];
const ePhases=[["(1)",41.4],["(2)",78.1]];

// ===== Tick labels =====
const aTicks={d18v:[-15,-18,-21],d18p:[-4,-6,-8],dv:[20,24,28,32],dp:[24,27,30,33],T:[0,3,6,9],RH:[40,60,80,100],P:[0,1,2,3,4],Th:[0,7,14,21,28]};
const bTicks={d18v:[-15,-18,-21],d18p:[-4,-8,-12,-16],dv:[20,24,28,32,36],dp:[12,18,24,30],T:[-4,0,4,8],RH:[25,50,75,100],P:[0,0.5,1,1.5],Th:[8,12,16,20,24,28]};
const cTicks={d18v:[-15,-18,-21,-24],d18p:[-12,-13,-14],dv:[20,24,28],dp:[12,14,16,18],T:[0,2,4,6],RH:[60,70,80,90,100],P:[0,0.6,1.2,1.8],Th:[6,12,18,24,30]};
const dTicks={d18v:[-15,-18,-21],d18p:[-4,-6,-8,-10],dv:[18,24,30,36],dp:[16,18,20,22],T:[1.5,3,4.5,6],RH:[40,60,80,100],P:[0,0.5,1,1.5,2],Th:[8,16,24,32]};
const eTicks={d18v:[-12,-16,-20,-24],d18p:[0,-2,-4,-6,-8],dv:[18,21,24,27],dp:[20,24,28,32],T:[0,2,4,6,8],RH:[60,70,80,90,100],P:[0,0.7,1.4,2.1],Th:[4,8,12,16,20]};
const aDates=["2018/12/04","2018/12/07","2018/12/10"];
const bDates=["2018/12/24","2018/12/27","2018/12/30"];
const cDates=["2019/01/07","2019/01/09","2019/01/11"];
const dDates=["2019/02/16","2019/02/19","2019/02/22"];
const eDates=["2019/01/27","2019/01/29","2019/01/31"];

// ===== Drawing =====
const NS='http://www.w3.org/2000/svg';
const svg=document.getElementById('chart');
const RED='#ff0000',GREEN='#16ee16',PINK='#ff1a8c',BLUE='#1a1aff',ORANGE='#ff8000',CYAN='#00f0f0',PURPLE='#9900cc',DBLUE='#1f4fff';
function mk(tag,attrs,parent){const e=document.createElementNS(NS,tag);for(const k in attrs)e.setAttribute(k,attrs[k]);parent.appendChild(e);return e;}
let clipId=0;

function drawFigure(F){
  const g=mk('g',{},svg);
  
  
  const W=F.right-F.left;
  const xs=h=>F.left+h/F.hours*W;
  F.panels.forEach((P,pi)=>{
    const top=F.tops[pi], H=F.H, bot=top+H;
    const pg=mk('g',{},g);
    
    
    const yL=v=>top+(P.lr[1]-v)/(P.lr[1]-P.lr[0])*H;
    const yR=v=>top+(P.rr[1]-v)/(P.rr[1]-P.rr[0])*H;
    const cid='clip'+(clipId++);
    const cp=mk('clipPath',{id:cid},pg);
    mk('rect',{x:F.left,y:top,width:W,height:H},cp);
    const data=mk('g',{'clip-path':'url(#'+cid+')'},pg);
    P.series.forEach(S=>{
      const yf=S.axis==='L'?yL:yR;
      if(S.type==='bars'){
        const bw=W/F.hours;
        const bg=mk('g',{fill:'#000'},data);
        
        
        S.data.forEach(d=>{
          const y=yf(d[1]);
          const r=mk('rect',{x:(xs(d[0])-bw/2).toFixed(2),y:y.toFixed(2),width:bw.toFixed(2),height:(bot-y).toFixed(2)},bg);
          
          
        });
      } else if(S.type==='dots'){
        S.data.forEach(d=>{
          const c=mk('ellipse',{cx:xs(d[0]).toFixed(2),cy:yf(d[1]).toFixed(2),rx:8,ry:6,fill:CYAN},pg);
          
          
        });
      } else {
        let dstr='',pen=false;
        S.data.forEach(d=>{
          if(d===null){pen=false;return;}
          dstr+=(pen?'L':'M')+xs(d[0]).toFixed(2)+' '+yf(d[1]).toFixed(2);
          pen=true;
        });
        const p=mk('path',{d:dstr,fill:'none',stroke:S.color,'stroke-width':S.w,'stroke-linejoin':'round','stroke-linecap':'round'},data);
        
        
      }
    });
    const fr=mk('g',{},pg);
    
    
    mk('line',{x1:F.left-2,y1:top,x2:F.right+2,y2:top,stroke:'#000','stroke-width':4},fr);
    mk('line',{x1:F.left-2,y1:bot,x2:F.right+2,y2:bot,stroke:'#000','stroke-width':4},fr);
    mk('line',{x1:F.left,y1:top-2,x2:F.left,y2:bot+2,stroke:P.lc,'stroke-width':4},fr);
    mk('line',{x1:F.right,y1:top-2,x2:F.right,y2:bot+2,stroke:P.rc,'stroke-width':4},fr);
    P.lt.forEach(v=>{
      const y=yL(v);
      mk('line',{x1:F.left-11,y1:y,x2:F.left,y2:y,stroke:P.lc,'stroke-width':4},fr);
      const t=mk('text',{x:F.left-15,y:y+10,'text-anchor':'end','font-size':28},fr);
      t.textContent=String(v);
      
      
    });
    P.rt.forEach(v=>{
      const y=yR(v);
      mk('line',{x1:F.right,y1:y,x2:F.right+11,y2:y,stroke:P.rc,'stroke-width':4},fr);
      const t=mk('text',{x:F.right+15,y:y+10,'text-anchor':'start','font-size':28},fr);
      t.textContent=String(v);
      
      
    });
    for(let h=0;h<=F.hours;h+=6){
      const x=xs(h), major=(h%24===0);
      mk('line',{x1:x,y1:bot,x2:x,y2:bot+(major?12:7),stroke:'#000','stroke-width':major?4:3},fr);
    }
    const cy=top+H/2;
    const lt=mk('text',{x:F.left-95,y:cy,'text-anchor':'middle','font-size':30,transform:'rotate(-90 '+(F.left-95)+' '+cy+')'},pg);
    lt.innerHTML=P.ltitle;
    
    
    const rtx=F.right+110;
    const rt=mk('text',{x:rtx,y:cy,'text-anchor':'middle','font-size':30,transform:'rotate(-90 '+rtx+' '+cy+')'},pg);
    rt.innerHTML=P.rtitle;
    
    
  });
  const y0=F.tops[0], y1=F.tops[3]+F.H;
  F.purple.forEach(h=>{
    const l=mk('line',{x1:xs(h),y1:y0,x2:xs(h),y2:y1,stroke:PURPLE,'stroke-width':3},g);
    
    
  });
  F.dashed.forEach(h=>{
    const l=mk('line',{x1:xs(h),y1:y0,x2:xs(h),y2:y1,stroke:DBLUE,'stroke-width':3,'stroke-dasharray':'13 8'},g);
    
    
  });
  F.phases.forEach(p=>{
    const t=mk('text',{x:xs(p[1]),y:F.tops[0]+F.H-8,'text-anchor':'middle','font-size':29,'font-style':'italic'},g);
    t.textContent=p[0];
    
    
  });
  const lab=mk('text',{x:F.right-8,y:F.tops[0]+50,'text-anchor':'end','font-size':34},g);
  lab.textContent='('+F.id+')';
  
  
  const bot=F.tops[3]+F.H;
  for(let h=0;h<=F.hours;h+=24){
    const t=mk('text',{x:xs(h),y:bot+51,'text-anchor':'middle','font-size':34},g);
    t.textContent='16:00';
    
    
  }
  F.dates.forEach((d,i)=>{
    const t=mk('text',{x:xs(i*F.dateStep),y:bot+106,'text-anchor':'middle','font-size':36},g);
    t.textContent=d;
    
    
  });
}

const T_D18V='δ<tspan dy="-12" font-size="20">18</tspan><tspan dy="12">O</tspan><tspan dy="7" font-size="20">V</tspan><tspan dy="-7">/‰</tspan>';
const T_D18P='δ<tspan dy="-12" font-size="20">18</tspan><tspan dy="12">O</tspan><tspan dy="7" font-size="20">P</tspan><tspan dy="-7">/‰</tspan>';
const T_DV='d<tspan dy="7" font-size="20">V</tspan><tspan dy="-7">/‰</tspan>';
const T_DP='d<tspan dy="7" font-size="20">P</tspan><tspan dy="-7">/‰</tspan>';
const T_T='T/°C', T_RH='RH/%', T_P='P/mm';
const T_TH='Δθ<tspan dy="7" font-size="20">se</tspan><tspan dy="-7">/K</tspan>';

function mkPanels(tk,r,s){
  return [
    {key:'d18o',lr:r[0],rr:r[1],lt:tk.d18v,rt:tk.d18p,lc:'#000',rc:CYAN,ltitle:T_D18V,rtitle:T_D18P,
      series:[{data:s[0],axis:'L',type:'line',color:RED,w:4,name:'d18o-vapor-line'},{data:s[1],axis:'R',type:'dots',name:'d18o-precip'}]},
    {key:'dexcess',lr:r[2],rr:r[3],lt:tk.dv,rt:tk.dp,lc:'#000',rc:CYAN,ltitle:T_DV,rtitle:T_DP,
      series:[{data:s[2],axis:'L',type:'line',color:GREEN,w:4,name:'d-excess-vapor-line'},{data:s[3],axis:'R',type:'dots',name:'d-excess-precip'}]},
    {key:'met',lr:r[4],rr:r[5],lt:tk.T,rt:tk.RH,lc:PINK,rc:BLUE,ltitle:T_T,rtitle:T_RH,
      series:[{data:s[4],axis:'L',type:'line',color:PINK,w:2.4,name:'temperature-line'},{data:s[5],axis:'R',type:'line',color:BLUE,w:2.4,name:'relative-humidity-line'}]},
    {key:'precip',lr:r[6],rr:r[7],lt:tk.P,rt:tk.Th,lc:'#000',rc:ORANGE,ltitle:T_P,rtitle:T_TH,
      series:[{data:s[6],axis:'L',type:'bars'},{data:s[7],axis:'R',type:'line',color:ORANGE,w:2.4,name:'delta-theta-se-line'}]}
  ];
}

const rowA=[43,319,598,876], rowC=[1352,1629,1907,2183], rowE=[2662,2940,3217,3493];
drawFigure({id:'a',left:153,right:877,hours:168,tops:rowA,H:249,purple:aPurple,dashed:aDashed,phases:aPhases,dates:aDates,dateStep:72,
  panels:mkPanels(aTicks,[[-23,-15],[-9,-4],[17.9,34.1],[24,34.05],[-1.07,11.1],[29.7,100],[0,4],[0,28]],[aD18Ov,aD18Op,aDv,aDp,aT,aRH,aP,aTheta])});
drawFigure({id:'b',left:1195,right:1917,hours:144,tops:rowA,H:249,purple:bPurple,dashed:bDashed,phases:bPhases,dates:bDates,dateStep:72,
  panels:mkPanels(bTicks,[[-23,-15],[-16,-4],[20,36],[12,30],[-6,11.05],[25,100],[0,1.5],[8,28]],[bD18Ov,bD18Op,bDv,bDp,bT,bRH,bP,bTheta])});
drawFigure({id:'c',left:149,right:869,hours:96,tops:rowC,H:251,purple:cPurple,dashed:cDashed,phases:cPhases,dates:cDates,dateStep:48,
  panels:mkPanels(cTicks,[[-24,-15],[-14,-12],[18,30.4],[12,18],[0,6],[55,100],[0,1.95],[6,30]],[cD18Ov,cD18Op,cDv,cDp,cT,cRH,cP,cTheta])});
drawFigure({id:'d',left:1199,right:1921,hours:144,tops:rowC,H:251,purple:dPurple,dashed:dDashed,phases:dPhases,dates:dDates,dateStep:72,
  panels:mkPanels(dTicks,[[-21,-15],[-10,-3],[15.9,36],[15,22],[1.0,6.3],[35,100],[0,2.3],[8,32]],[dD18Ov,dD18Op,dDv,dDp,dT,dRH,dP,dTheta])});
drawFigure({id:'e',left:147,right:866,hours:96,tops:rowE,H:252,purple:ePurple,dashed:eDashed,phases:ePhases,dates:eDates,dateStep:48,
  panels:mkPanels(eTicks,[[-24,-12],[-8,0],[18,28.7],[20,33],[-0.3,8.2],[57.9,100],[0,2.4],[4,20]],[eD18Ov,eD18Op,eDv,eDp,eT,eRH,eP,eTheta])});
</script>
</body></html>
